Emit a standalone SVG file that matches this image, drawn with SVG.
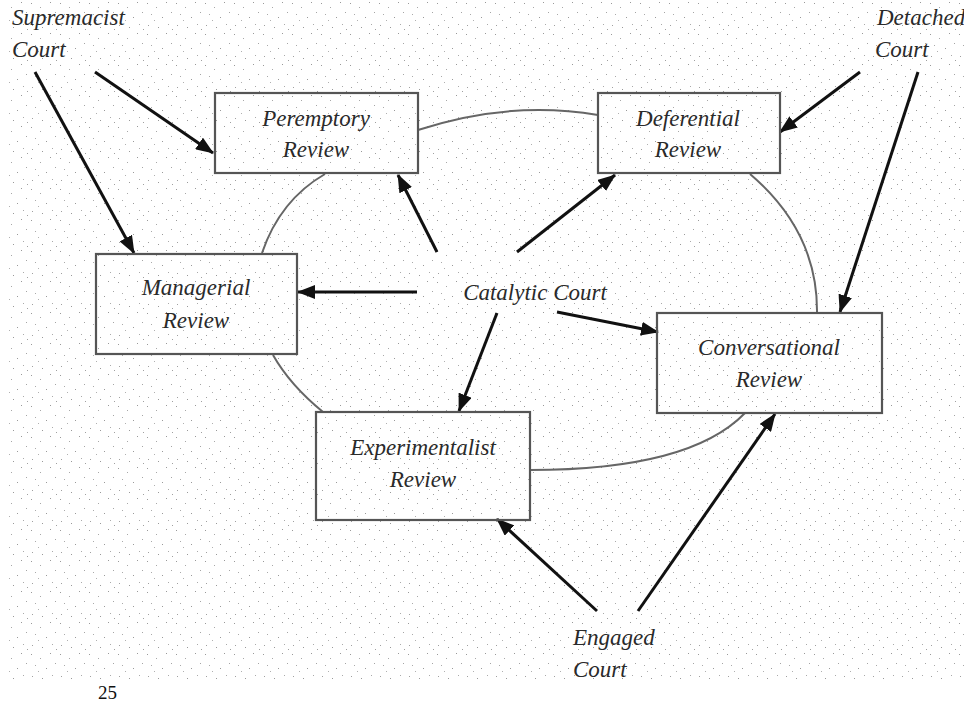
<svg xmlns="http://www.w3.org/2000/svg" width="964" height="702" viewBox="0 0 964 702">
<style>
.box{fill:none;stroke:#555;stroke-width:2.2}
.arc{fill:none;stroke:#666;stroke-width:2}
.arr{stroke:#111;stroke-width:3;fill:none;marker-end:url(#ah)}
.t{font-family:"Liberation Serif","Times New Roman",serif;font-style:italic;font-size:23px;fill:#2a2a2a;text-anchor:middle}
.ts{font-family:"Liberation Serif","Times New Roman",serif;font-style:italic;font-size:23px;fill:#2a2a2a}
.pg{font-family:"Liberation Serif","Times New Roman",serif;font-size:19px;fill:#111}
</style>
<defs>
<marker id="ah" markerUnits="userSpaceOnUse" markerWidth="18" markerHeight="14" viewBox="0 0 18 14" refX="17" refY="7" orient="auto">
<path d="M0,0 L18,7 L0,14 Z" fill="#111"/>
</marker>
<pattern id="dots" width="29" height="31" patternUnits="userSpaceOnUse">
<rect x="2" y="3" width="1" height="1" fill="#9a9a9a"/>
<rect x="11" y="7" width="1" height="1" fill="#a8a8a8"/>
<rect x="21" y="2" width="1" height="1" fill="#999"/>
<rect x="6" y="14" width="1" height="1" fill="#aaa"/>
<rect x="17" y="17" width="1" height="1" fill="#9a9a9a"/>
<rect x="26" y="12" width="1" height="1" fill="#a5a5a5"/>
<rect x="3" y="25" width="1" height="1" fill="#a0a0a0"/>
<rect x="13" y="27" width="1" height="1" fill="#999"/>
<rect x="23" y="24" width="1" height="1" fill="#aaa"/>
<rect x="9" y="20" width="1" height="1" fill="#b0b0b0"/>
<rect x="27" y="29" width="1" height="1" fill="#a0a0a0"/>
</pattern>
</defs>
<rect width="964" height="702" fill="#fff"/>
<rect x="8" y="0" width="956" height="680" fill="url(#dots)"/>

<g id="connectors">
<path class="arc" d="M418,130 Q510,100 598,115"/>
<path class="arc" d="M750,174 Q818,232 817,313"/>
<path class="arc" d="M745,413 Q690,470 530,470"/>
<path class="arc" d="M323,412 Q290,385 273,355"/>
<path class="arc" d="M262,253 Q280,200 325,174"/>

<line class="arr" x1="95" y1="72" x2="213" y2="153"/>
<line class="arr" x1="35" y1="72" x2="134" y2="253"/>
<line class="arr" x1="860" y1="72" x2="780" y2="132"/>
<line class="arr" x1="918" y1="72" x2="840" y2="312"/>
<line class="arr" x1="437" y1="252" x2="398" y2="175"/>
<line class="arr" x1="517" y1="252" x2="615" y2="175"/>
<line class="arr" x1="417" y1="292" x2="298" y2="292"/>
<line class="arr" x1="557" y1="312" x2="658" y2="332"/>
<line class="arr" x1="497" y1="313" x2="459" y2="411"/>
<line class="arr" x1="597" y1="611" x2="497" y2="519"/>
<line class="arr" x1="638" y1="611" x2="775" y2="414"/>
</g>

<g id="peremptory">
<rect class="box" x="215" y="93" width="203" height="80"/>
<text class="t" x="316" y="126">Peremptory</text>
<text class="t" x="316" y="157">Review</text>
</g>
<g id="deferential">
<rect class="box" x="598" y="93" width="182" height="80"/>
<text class="t" x="688" y="126">Deferential</text>
<text class="t" x="688" y="157">Review</text>
</g>
<g id="managerial">
<rect class="box" x="96" y="254" width="201" height="100"/>
<text class="t" x="196" y="295">Managerial</text>
<text class="t" x="196" y="328">Review</text>
</g>
<g id="experimentalist">
<rect class="box" x="316" y="412" width="214" height="108"/>
<text class="t" x="423" y="455">Experimentalist</text>
<text class="t" x="423" y="487">Review</text>
</g>
<g id="conversational">
<rect class="box" x="657" y="313" width="225" height="100"/>
<text class="t" x="769" y="355">Conversational</text>
<text class="t" x="769" y="387">Review</text>
</g>
<g id="catalytic">
<text class="t" x="535" y="300">Catalytic Court</text>
</g>
<g id="supremacist">
<text class="ts" x="12" y="25">Supremacist</text>
<text class="ts" x="12" y="57">Court</text>
</g>
<g id="detached">
<text class="ts" x="877" y="25">Detached</text>
<text class="ts" x="875" y="57">Court</text>
</g>
<g id="engaged">
<text class="ts" x="573" y="645">Engaged</text>
<text class="ts" x="573" y="677">Court</text>
</g>
<text class="pg" x="98" y="699">25</text>
</svg>
